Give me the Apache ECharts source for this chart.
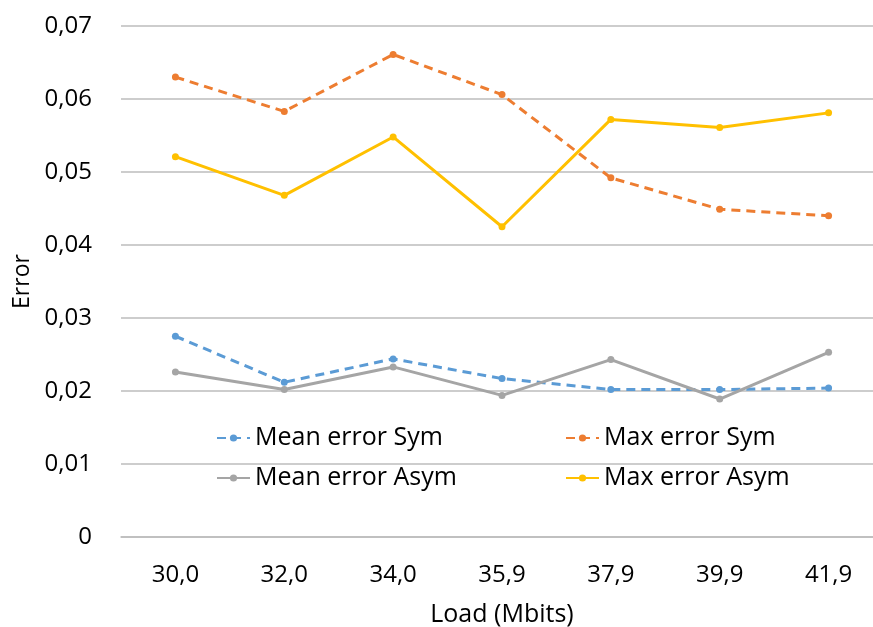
<!DOCTYPE html>
<html>
<head>
<meta charset="utf-8">
<script src="https://cdn.jsdelivr.net/npm/echarts@6/dist/echarts.min.js"></script>
<style>
  html, body { margin: 0; padding: 0; background: #fff; }
  #chart { width: 873px; height: 627px; }
</style>
</head>
<body>
<div id="chart"></div>
<script>
// load values on the x axis
const loads = ['30,0', '32,0', '34,0', '35,9', '37,9', '39,9', '41,9'];

const meanErrorSym = [0.0275, 0.0212, 0.0244, 0.0217, 0.0202, 0.0202, 0.0204];
const maxErrorSym = [0.0630, 0.0583, 0.0661, 0.0606, 0.0492, 0.0449, 0.0440];
const meanErrorAsym = [0.0226, 0.0202, 0.0233, 0.0194, 0.0243, 0.0189, 0.0253];
const maxErrorAsym = [0.0521, 0.0468, 0.0548, 0.0425, 0.0572, 0.0561, 0.0581];

const font = '"Open Sans", "DejaVu Sans", sans-serif';

function lineSeries(name, data, color, dashed) {
  return {
    name: name,
    type: 'line',
    data: data,
    symbol: 'circle',
    symbolSize: 7,
    itemStyle: { color: color },
    lineStyle: { color: color, width: 3, type: dashed ? [9, 6] : 'solid' },
    emphasis: { disabled: true }
  };
}

const legendText = { fontFamily: font, fontSize: 25, color: '#000', lineHeight: 28 };

const chart = echarts.init(document.getElementById('chart'));
chart.setOption({
  animation: false,
  backgroundColor: '#fff',
  grid: { left: 121, top: 26, width: 762, height: 511, containLabel: false, outerBoundsMode: 'none' },
  legend: [
    {
      data: ['Mean error Sym', 'Mean error Asym'],
      orient: 'vertical',
      left: 211, top: 419,
      itemWidth: 33, itemHeight: 9, itemGap: 12,
      textStyle: legendText
    },
    {
      data: ['Max error Sym', 'Max error Asym'],
      orient: 'vertical',
      left: 560, top: 419,
      itemWidth: 33, itemHeight: 9, itemGap: 12,
      textStyle: legendText
    }
  ],
  xAxis: {
    type: 'category',
    data: loads,
    name: 'Load (Mbits)',
    nameLocation: 'middle',
    nameGap: 65,
    nameTextStyle: { fontFamily: font, fontSize: 25, color: '#000' },
    axisLine: { lineStyle: { color: '#bcbcbc', width: 1.5 } },
    axisTick: { show: false },
    axisLabel: { fontFamily: font, fontSize: 24, color: '#000', margin: 26 }
  },
  yAxis: {
    type: 'value',
    min: 0, max: 0.07, interval: 0.01,
    name: 'Error',
    nameLocation: 'middle',
    nameRotate: 90,
    nameGap: 86,
    nameTextStyle: { fontFamily: font, fontSize: 23, color: '#000' },
    axisLine: { show: false },
    axisTick: { show: false },
    splitLine: { lineStyle: { color: '#bcbcbc', width: 1.5 } },
    axisLabel: {
      fontFamily: font, fontSize: 24, color: '#000', margin: 29,
      formatter: v => v === 0 ? '0' : v.toFixed(2).replace('.', ',')
    }
  },
  series: [
    lineSeries('Mean error Sym', meanErrorSym, '#5B9BD5', true),
    lineSeries('Max error Sym', maxErrorSym, '#ED7D31', true),
    lineSeries('Mean error Asym', meanErrorAsym, '#A5A5A5', false),
    lineSeries('Max error Asym', maxErrorAsym, '#FFC000', false)
  ]
});
</script>
</body>
</html>
